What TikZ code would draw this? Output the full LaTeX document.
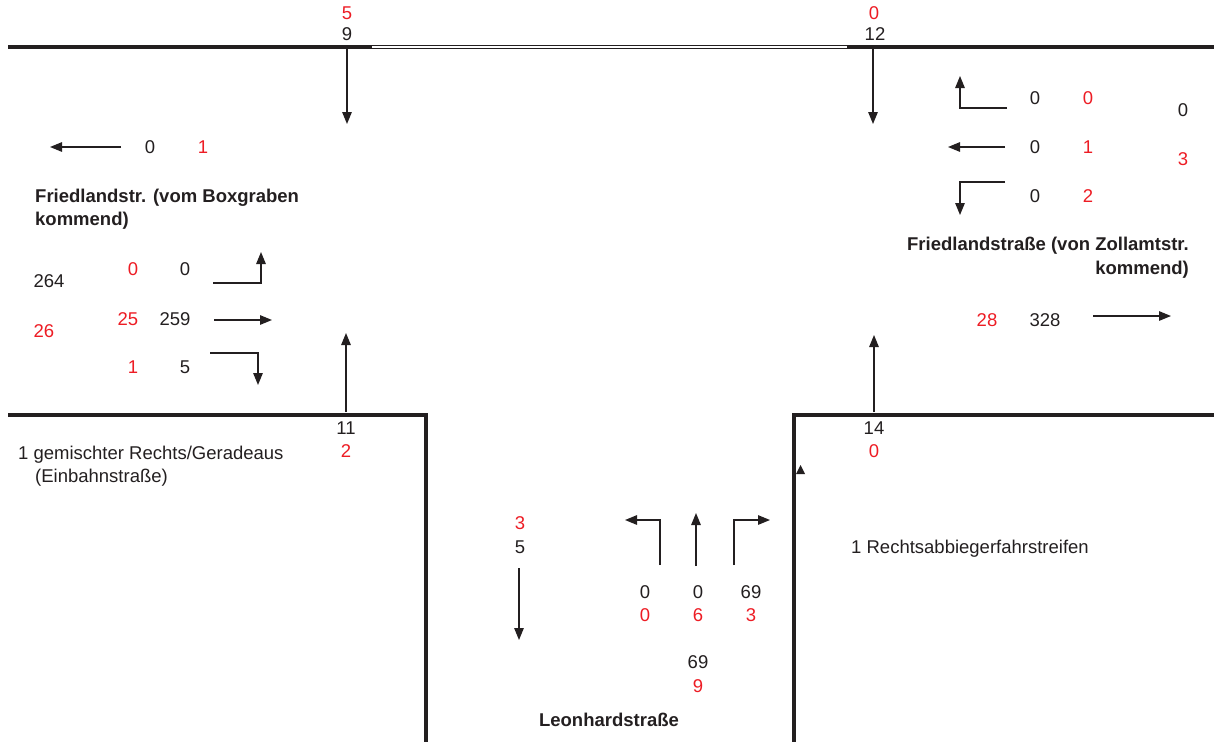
\documentclass[tikz,border=0pt]{standalone}
\usepackage{fontspec}
\setmainfont{Liberation Sans}
\usetikzlibrary{arrows.meta}
\definecolor{rd}{RGB}{237,28,36}
\definecolor{tx}{RGB}{35,31,32}
\begin{document}
\begin{tikzpicture}[x=1pt,y=-1pt,
  wall/.style={line width=3.6pt,draw=tx},
  arr/.style={line width=1.3pt,draw=tx,-{Triangle[length=12pt,width=9.5pt]}},
  txt/.style={inner sep=0pt,font=\fontsize{18.5}{22}\selectfont},
  bk/.style={txt,text=tx},
  rn/.style={txt,text=rd},
  lbl/.style={inner sep=0pt,text=tx,font=\fontsize{18.5}{22}\selectfont\bfseries}]
\useasboundingbox (0,0) rectangle (1214,742);

% road edges
\coordinate (tl) at (8,47); \coordinate (tm1) at (372,47);
\coordinate (tm2) at (847,47); \coordinate (tr) at (1214,47);
\draw[wall] (tl) -- (tm1);
\draw[wall] (tm2) -- (tr);
\draw[line width=1.3pt,double,double distance=1.6pt,draw=tx] (tm1) -- (tm2);
\coordinate (bl1) at (8,415); \coordinate (bl2) at (426,415); \coordinate (bl3) at (426,742);
\draw[wall] (bl1) -- (bl2) -- (bl3);
\coordinate (br1) at (1214,415); \coordinate (br2) at (794,415); \coordinate (br3) at (794,742);
\draw[wall] (br1) -- (br2) -- (br3);
\fill[tx] (796,474) -- (800.5,465) -- (805,474) -- cycle;

% vertical arrows
\coordinate (a1s) at (347,48);  \coordinate (a1e) at (347,124);
\coordinate (a2s) at (873,48);  \coordinate (a2e) at (873,124);
\coordinate (a3s) at (346,412); \coordinate (a3e) at (346,333);
\coordinate (a4s) at (874,412); \coordinate (a4e) at (874,335);
\draw[arr] (a1s) -- (a1e);
\draw[arr] (a2s) -- (a2e);
\draw[arr] (a3s) -- (a3e);
\draw[arr] (a4s) -- (a4e);

% left approach
\coordinate (l1s) at (121,147); \coordinate (l1e) at (50,147);
\draw[arr] (l1s) -- (l1e);
\coordinate (l2s) at (213,283); \coordinate (l2m) at (261,283); \coordinate (l2e) at (261,252);
\draw[arr] (l2s) -- (l2m) -- (l2e);
\coordinate (l3s) at (214,320); \coordinate (l3e) at (272,320);
\draw[arr] (l3s) -- (l3e);
\coordinate (l4s) at (210,353); \coordinate (l4m) at (258,353); \coordinate (l4e) at (258,385);
\draw[arr] (l4s) -- (l4m) -- (l4e);

% right approach
\coordinate (r1s) at (1007,108); \coordinate (r1m) at (960,108); \coordinate (r1e) at (960,76);
\draw[arr] (r1s) -- (r1m) -- (r1e);
\coordinate (r2s) at (1005,147); \coordinate (r2e) at (948,147);
\draw[arr] (r2s) -- (r2e);
\coordinate (r3s) at (1005,182); \coordinate (r3m) at (960,182); \coordinate (r3e) at (960,215);
\draw[arr] (r3s) -- (r3m) -- (r3e);
\coordinate (r4s) at (1093,316); \coordinate (r4e) at (1171,316);
\draw[arr] (r4s) -- (r4e);

% bottom approach
\coordinate (b1s) at (519,568); \coordinate (b1e) at (519,640);
\draw[arr] (b1s) -- (b1e);
\coordinate (b2s) at (660,565); \coordinate (b2m) at (660,520); \coordinate (b2e) at (625,520);
\draw[arr] (b2s) -- (b2m) -- (b2e);
\coordinate (b3s) at (696,566); \coordinate (b3e) at (696,513);
\draw[arr] (b3s) -- (b3e);
\coordinate (b4s) at (734,565); \coordinate (b4m) at (734,520); \coordinate (b4e) at (770,520);
\draw[arr] (b4s) -- (b4m) -- (b4e);

% numbers top
\node[rn] (t1) at (347,13) {5};
\node[bk] (t2) at (347,34) {9};
\node[rn] (t3) at (874,13) {0};
\node[bk] (t4) at (875,34) {12};
% numbers at lower corners
\node[bk] (c1) at (346,428) {11};
\node[rn] (c2) at (346,451) {2};
\node[bk] (c3) at (874,428) {14};
\node[rn] (c4) at (874,451) {0};

% left approach labels
\node[bk] (n1) at (150,147) {0};
\node[rn] (n2) at (203,147) {1};
\node[lbl,anchor=base west] (lname1) at (35,202.5) {Friedlandstr. (vom Boxgraben};
\node[lbl,anchor=base west] (lname2) at (35,225.5) {kommend)};
\node[bk] (n3) at (49,281) {264};
\node[rn] (n4) at (44,331) {26};
\node[rn] (n5) at (133,269) {0};
\node[bk] (n6) at (185,269) {0};
\node[rn] (n7) at (128,319) {25};
\node[bk] (n8) at (175,319) {259};
\node[rn] (n9) at (133,367) {1};
\node[bk] (n10) at (185,367) {5};
\node[bk,anchor=base west] (g1) at (18,459.5) {1 gemischter Rechts/Geradeaus};
\node[bk,anchor=base west] (g2) at (35,482.5) {(Einbahnstraße)};

% right approach labels
\node[bk] (m1) at (1035,98) {0};
\node[rn] (m2) at (1088,98) {0};
\node[bk] (m3) at (1035,147) {0};
\node[rn] (m4) at (1088,147) {1};
\node[bk] (m5) at (1035,196) {0};
\node[rn] (m6) at (1088,196) {2};
\node[bk] (m7) at (1183,110) {0};
\node[rn] (m8) at (1183,159) {3};
\node[lbl,anchor=base east] (rname1) at (1189,250.5) {Friedlandstraße (von Zollamtstr.};
\node[lbl,anchor=base east] (rname2) at (1189,274.5) {kommend)};
\node[rn] (m9) at (987,320) {28};
\node[bk] (m10) at (1045,320) {328};
\node[bk,anchor=base west] (rs) at (851,553.5) {1 Rechtsabbiegerfahrstreifen};

% bottom approach labels
\node[rn] (k1) at (520,523) {3};
\node[bk] (k2) at (520,547) {5};
\node[bk] (k3) at (645,592) {0};
\node[bk] (k4) at (698,592) {0};
\node[bk] (k5) at (751,592) {69};
\node[rn] (k6) at (645,615) {0};
\node[rn] (k7) at (698,615) {6};
\node[rn] (k8) at (751,615) {3};
\node[bk] (k9) at (698,662) {69};
\node[rn] (k10) at (698,686) {9};
\node[lbl,anchor=base] (bname) at (609,726.5) {Leonhardstraße};
\end{tikzpicture}
\end{document}
